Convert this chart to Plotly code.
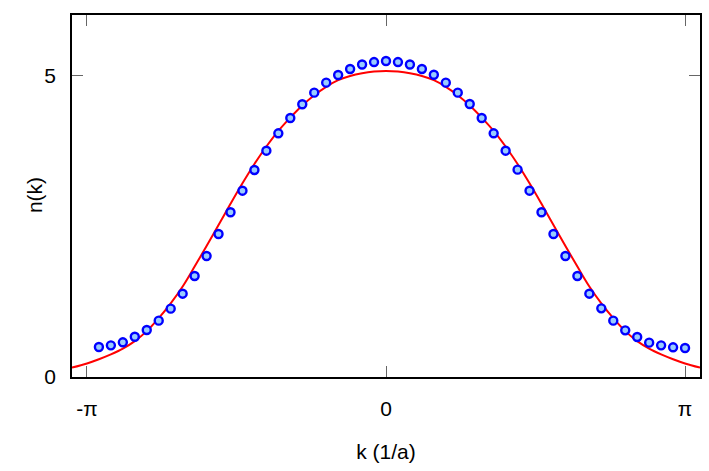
import numpy as np
import plotly.graph_objects as go

PI = np.pi

# measured data points: k = index * (2*pi/50)
point_index = list(range(-24, 26))
point_n = [0.497, 0.525, 0.575, 0.668, 0.779, 0.934, 1.133, 1.381, 1.674, 2.006,
           2.37, 2.73, 3.088, 3.431, 3.751, 4.039, 4.293, 4.52, 4.713, 4.879,
           5.006, 5.105, 5.18, 5.22, 5.238, 5.22, 5.18, 5.105, 5.01, 4.879,
           4.713, 4.525, 4.293, 4.039, 3.751, 3.437, 3.088, 2.73, 2.37, 2.006,
           1.674, 1.381, 1.138, 0.934, 0.773, 0.663, 0.569, 0.525, 0.492, 0.481]

# fitted curve, sampled at k/pi positions
curve_kpi = [-1.05, -1.0, -0.96, -0.92, -0.88, -0.84, -0.80, -0.76, -0.72, -0.68,
             -0.64, -0.60, -0.56, -0.52, -0.48, -0.44, -0.40, -0.36, -0.32, -0.28,
             -0.24, -0.20, -0.16, -0.12, -0.08, -0.04, 0.0,
             0.04, 0.08, 0.12, 0.16, 0.20, 0.24, 0.28, 0.32, 0.36, 0.40,
             0.44, 0.48, 0.52, 0.56, 0.60, 0.64, 0.68, 0.72, 0.76, 0.80,
             0.84, 0.88, 0.92, 0.96, 1.0, 1.05]
curve_n = [0.155, 0.225, 0.295, 0.375, 0.47, 0.595, 0.76, 0.975, 1.22, 1.50,
           1.83, 2.17, 2.52, 2.87, 3.21, 3.53, 3.82, 4.08, 4.30, 4.50,
           4.67, 4.81, 4.92, 4.99, 5.035, 5.062, 5.072,
           5.062, 5.035, 4.99, 4.92, 4.81, 4.67, 4.50, 4.30, 4.08, 3.82,
           3.53, 3.21, 2.87, 2.52, 2.17, 1.83, 1.50, 1.22, 0.975, 0.76,
           0.595, 0.47, 0.375, 0.295, 0.225, 0.155]

x_tick_vals = [-PI, 0, PI]
x_tick_text = ["-π", "0", "π"]
y_tick_vals = [0, 5]
y_tick_text = ["0", "5"]

point_k = [i * 2 * PI / 50 for i in point_index]
curve_k = [v * PI for v in curve_kpi]

fig = go.Figure()
fig.add_trace(go.Scatter(
    x=curve_k, y=curve_n, mode="lines",
    line=dict(color="#ff0000", width=2, shape="spline", smoothing=1.0),
    showlegend=False, hoverinfo="skip"))
fig.add_trace(go.Scatter(
    x=point_k, y=point_n, mode="markers",
    marker=dict(symbol="circle", size=8, color="#99ccff",
                line=dict(color="#0000ff", width=2.4)),
    showlegend=False))

font = dict(family="Liberation Sans, Arial, sans-serif", size=21, color="#000000")

fig.update_layout(
    width=709, height=471,
    margin=dict(l=72, r=7, t=15, b=94),
    paper_bgcolor="white", plot_bgcolor="white",
    font=font,
    xaxis=dict(
        range=[-1.05 * PI, 1.05 * PI],
        tickvals=x_tick_vals, ticktext=x_tick_text,
        ticks="inside", ticklen=11, tickwidth=1.2, tickcolor="#666666",
        showline=True, linecolor="#000000", linewidth=1.6, mirror="ticks",
        showgrid=False, zeroline=False,
        ticklabelstandoff=12,
        title=dict(text="k (1/a)", font=font, standoff=25),
    ),
    yaxis=dict(
        range=[0, 6],
        tickvals=y_tick_vals, ticktext=y_tick_text,
        ticks="inside", ticklen=11, tickwidth=1.2, tickcolor="#666666",
        showline=True, linecolor="#000000", linewidth=1.6, mirror="ticks",
        showgrid=False, zeroline=False,
        ticklabelstandoff=10,
    ),
    annotations=[dict(
        text="n(k)", textangle=-90, font=font, showarrow=False,
        xref="paper", yref="paper", x=(35 - 72) / 630, y=(377 - 195) / 362,
        xanchor="center", yanchor="middle")],
)

fig.write_html("out.html")
